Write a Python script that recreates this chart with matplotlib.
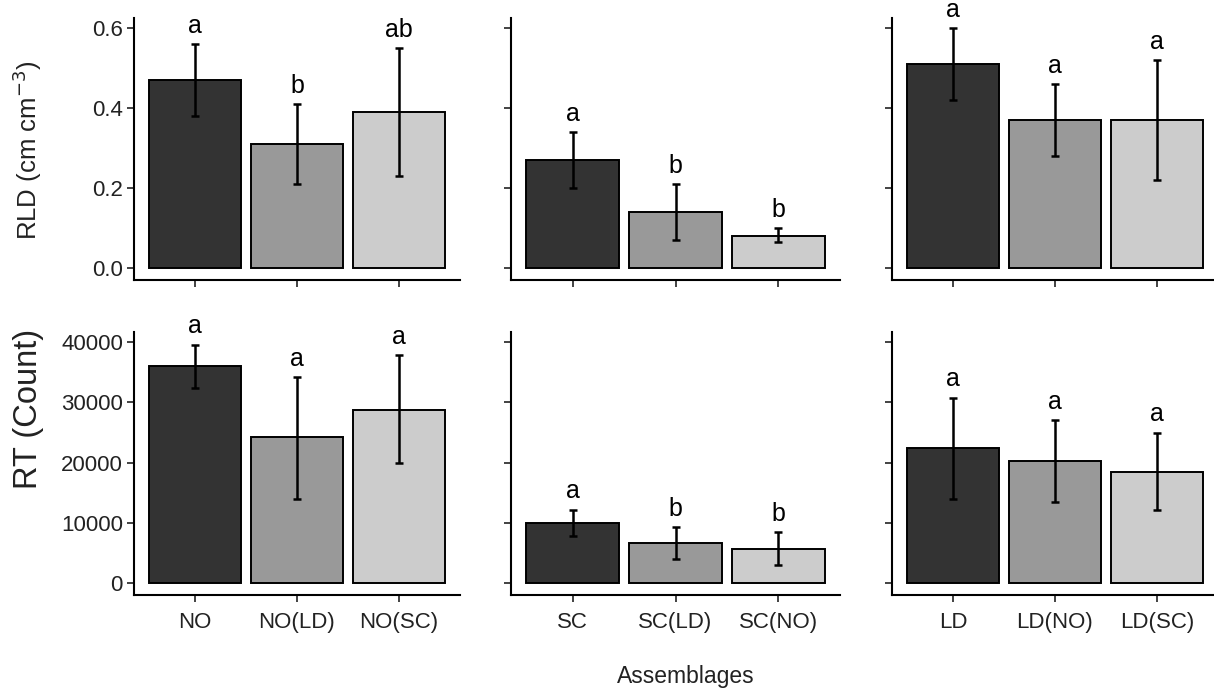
import matplotlib
matplotlib.use('Agg')
import matplotlib.pyplot as plt
import numpy as np

plt.rcParams['font.family'] = ['Liberation Sans', 'DejaVu Sans']

# data
groups = [['NO', 'NO(LD)', 'NO(SC)'],
          ['SC', 'SC(LD)', 'SC(NO)'],
          ['LD', 'LD(NO)', 'LD(SC)']]

rld_mean = [[0.47, 0.31, 0.39], [0.27, 0.14, 0.08], [0.51, 0.37, 0.37]]
rld_lo = [[0.38, 0.21, 0.23], [0.20, 0.07, 0.065], [0.42, 0.28, 0.22]]
rld_hi = [[0.56, 0.41, 0.55], [0.34, 0.21, 0.10], [0.60, 0.46, 0.52]]
rld_let = [['a', 'b', 'ab'], ['a', 'b', 'b'], ['a', 'a', 'a']]

rt_mean = [[36000, 24200, 28800], [10000, 6700, 5700], [22500, 20200, 18500]]
rt_lo = [[32400, 14000, 20000], [7800, 4000, 3000], [14000, 13400, 12200]]
rt_hi = [[39600, 34200, 37800], [12200, 9300, 8500], [30800, 27000, 25000]]
rt_let = [['a', 'a', 'a'], ['a', 'b', 'b'], ['a', 'a', 'a']]

colors = ['#333333', '#999999', '#cccccc']

W, H = 1214, 689
fig = plt.figure(figsize=(W / 100, H / 100), dpi=100)

def px_axes(x0, y0, x1, y1):
    return fig.add_axes([x0 / W, 1 - y1 / H, (x1 - x0) / W, (y1 - y0) / H])

panel_x = [(134, 460), (511, 840), (892, 1218)]
rows = [
    dict(y=(18, 280), mean=rld_mean, lo=rld_lo, hi=rld_hi, let=rld_let,
         ylim=(-0.03, 0.625), yticks=[0.0, 0.2, 0.4, 0.6],
         ylab='RLD (cm cm$^{-3}$)', ylab_fs=18.5, ylab_xy=(27, 150)),
    dict(y=(332, 595), mean=rt_mean, lo=rt_lo, hi=rt_hi, let=rt_let,
         ylim=(-2000, 41700), yticks=[0, 10000, 20000, 30000, 40000],
         ylab='RT (Count)', ylab_fs=23.5, ylab_xy=(29, 409)),
]

for r, row in enumerate(rows):
    for p in range(3):
        ax = px_axes(panel_x[p][0], row['y'][0], panel_x[p][1], row['y'][1])
        x = np.arange(1, 4)
        m = np.array(row['mean'][p], float)
        lo = np.array(row['lo'][p], float)
        hi = np.array(row['hi'][p], float)
        ax.bar(x, m, width=0.9, color=colors, edgecolor='black', linewidth=1.4, zorder=2)
        ax.errorbar(x, m, yerr=[m - lo, hi - m], fmt='none', ecolor='black',
                    elinewidth=1.8, capsize=3, capthick=1.8, zorder=3)
        for xi, h, t in zip(x, hi, row['let'][p]):
            ax.annotate(t, (xi, h), xytext=(0, 4.5), textcoords='offset points',
                        ha='center', va='bottom', fontsize=18, annotation_clip=False)
        ax.set_xlim(0.4, 3.6)
        ax.set_ylim(*row['ylim'])
        ax.set_xticks(x)
        ax.set_yticks(row['yticks'])
        for s in ['top', 'right']:
            ax.spines[s].set_visible(False)
        for s in ['left', 'bottom']:
            ax.spines[s].set_linewidth(1.5)
        ax.tick_params(direction='out', length=5, width=1.2, labelsize=16, colors='#222222', pad=3)
        if r == 0:
            ax.set_xticklabels([])
        else:
            ax.set_xticklabels(groups[p])
            ax.tick_params(axis='x', pad=7)
        if p == 0:
            if r == 1:
                ax.set_yticklabels(['0', '10000', '20000', '30000', '40000'])
            fig.text(row['ylab_xy'][0] / W, 1 - row['ylab_xy'][1] / H, row['ylab'],
                     rotation=90, ha='center', va='center', fontsize=row['ylab_fs'], color='#222222')
        else:
            ax.set_yticklabels([])

fig.text(686 / W, 1 - 676 / H, 'Assemblages', ha='center', va='center', fontsize=16.5, color='#222222')

fig.savefig('out.png', dpi=100)
